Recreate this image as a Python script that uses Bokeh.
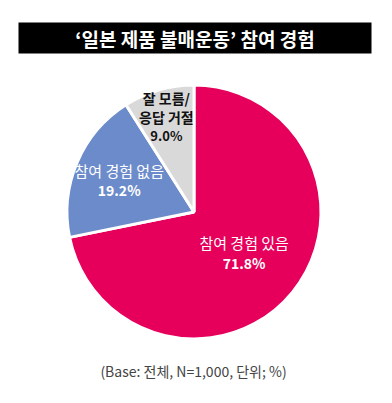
import math
from bokeh.plotting import figure
from bokeh.models import Range1d, BoxAnnotation, ColumnDataSource
from bokeh.core.properties import value
from bokeh.embed import file_html
from bokeh.resources import INLINE

# ---- data ----
title = "‘일본 제품 불매운동’ 참여 경험"
categories = ["참여 경험 있음", "참여 경험 없음", "잘 모름/\n응답 거절"]
values = [71.8, 19.2, 9.0]
footnote = "(Base: 전체, N=1,000, 단위; %)"

# ---- style ----
colors = ["#E6005B", "#6C8BCA", "#D9D9D9"]
label_colors = ["white", "white", "#111111"]
label_r_frac = [0.51, 0.64, 0.78]
FONT = "Noto Sans CJK KR"

W, H = 384, 395
p = figure(width=W, height=H, output_backend="svg", toolbar_location=None,
           x_range=Range1d(0, W), y_range=Range1d(-H, 0),
           min_border=0, outline_line_color=None)
p.axis.visible = False
p.grid.visible = False
p.background_fill_color = "white"
p.border_fill_color = "white"

cx, cy, R = 193.5, -211.5, 127

total = sum(values)
starts, ends, mids = [], [], []
cum = 0.0
for v in values:
    a0 = math.pi / 2 - 2 * math.pi * (cum + v) / total
    a1 = math.pi / 2 - 2 * math.pi * cum / total
    starts.append(a0)
    ends.append(a1)
    mids.append((a0 + a1) / 2)
    cum += v

src = ColumnDataSource(dict(x=[cx] * 3, y=[cy] * 3, s=starts, e=ends, c=colors))
p.wedge(x="x", y="y", radius=R, start_angle="s", end_angle="e",
        fill_color="c", line_color="white", line_width=3, source=src)

# title bar
p.add_layout(BoxAnnotation(left=18, right=371, top=-22, bottom=-53, level="underlay",
                           fill_color="black", fill_alpha=1, line_color=None))
p.text(x=[194.5], y=[-38], text=[title], text_color="white",
       text_font=value(FONT), text_font_size="19px", text_font_style="bold",
       text_align="center", text_baseline="middle")

# slice labels
for i, (cat, v) in enumerate(zip(categories, values)):
    lx = cx + label_r_frac[i] * R * math.cos(mids[i])
    ly = cy + label_r_frac[i] * R * math.sin(mids[i])
    lines = cat.split("\n") + [f"{v:.1f}%"]
    n = len(lines)
    step = 20 if n == 2 else 19
    for j, t in enumerate(lines):
        off = (j - (n - 1) / 2) * step
        is_pct = j == n - 1
        if i == 2:
            fs, st = ("13px" if is_pct else "14px"), "bold"
        else:
            fs = "14px" if is_pct else "15px"
            st = "bold" if is_pct else "normal"
        p.text(x=[lx], y=[ly - off], text=[t], text_color=label_colors[i],
               text_font=value(FONT), text_font_size=fs, text_font_style=st,
               text_align="center", text_baseline="middle")

# footnote
p.text(x=[193], y=[-370], text=[footnote], text_color="#444444",
       text_font=value(FONT), text_font_size="14px",
       text_align="center", text_baseline="middle")

open("out.html", "w").write(file_html(p, INLINE))
